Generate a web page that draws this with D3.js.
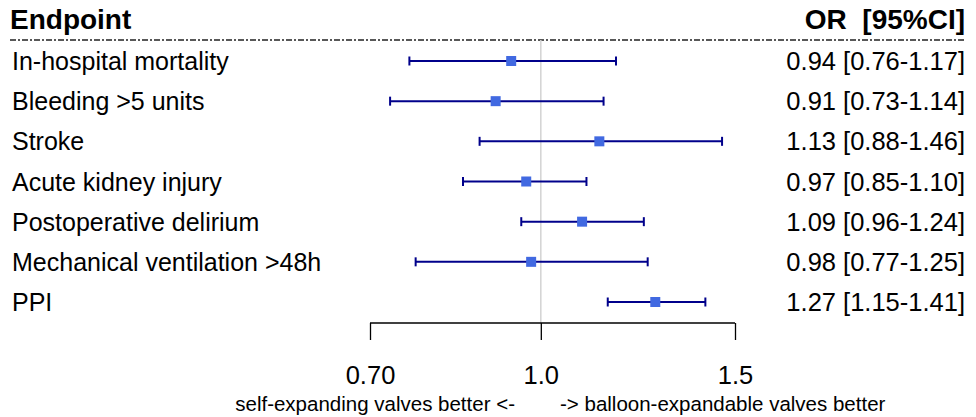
<!DOCTYPE html>
<html>
<head>
<meta charset="utf-8">
<script src="https://cdn.jsdelivr.net/npm/d3@7"></script>
<style>
body { margin: 0; background: #fff; }
text { font-family: "Liberation Sans", Arial, sans-serif; }
</style>
</head>
<body>
<svg id="chart" width="976" height="417"></svg>
<script>
var endpoints = ["In-hospital mortality", "Bleeding >5 units", "Stroke", "Acute kidney injury",
    "Postoperative delirium", "Mechanical ventilation >48h", "PPI"];
var or_values = [0.94, 0.91, 1.13, 0.97, 1.09, 0.98, 1.27];
var ci_low = [0.76, 0.73, 0.88, 0.85, 0.96, 0.77, 1.15];
var ci_high = [1.17, 1.14, 1.46, 1.10, 1.24, 1.25, 1.41];
var tick_values = [0.7, 1.0, 1.5];
var tick_labels = ["0.70", "1.0", "1.5"];

var svg = d3.select("#chart");
var x = d3.scaleLog().domain([0.7, 1.5]).range([370, 735]);
var y = d3.scalePoint().domain(endpoints).range([61, 302]);

var rows = endpoints.map(function (d, i) {
    return { "name": d, "or": or_values[i], "lo": ci_low[i], "hi": ci_high[i] };
});

// header
svg.append("text").text("Endpoint")
    .attr("x", 10).attr("y", 29)
    .attr("font-size", 28).attr("font-weight", "bold");
svg.append("text").text("OR\u00a0\u00a0[95%CI]")
    .attr("x", 965).attr("y", 29)
    .attr("font-size", 28).attr("font-weight", "bold")
    .attr("text-anchor", "end");
svg.append("line")
    .attr("x1", 10).attr("x2", 965).attr("y1", 40).attr("y2", 40)
    .attr("stroke", "#222").attr("stroke-width", 1.3)
    .attr("stroke-dasharray", "6,2,2,2");

// reference line at 1
svg.append("line")
    .attr("x1", x(1)).attr("x2", x(1)).attr("y1", 40).attr("y2", 323)
    .attr("stroke", "#d3d3d3").attr("stroke-width", 1.5);

// labels
svg.selectAll(".row-label").data(rows)
    .enter().append("text")
    .attr("class", "row-label")
    .attr("x", 12)
    .attr("y", function (d) { return y(d.name) + 9; })
    .attr("font-size", 25)
    .text(function (d) { return d.name; });

svg.selectAll(".row-value").data(rows)
    .enter().append("text")
    .attr("class", "row-value")
    .attr("x", 965)
    .attr("y", function (d) { return y(d.name) + 9; })
    .attr("font-size", 25.5)
    .attr("text-anchor", "end")
    .text(function (d) { return d.or.toFixed(2) + " [" + d.lo.toFixed(2) + "-" + d.hi.toFixed(2) + "]"; });

// CI lines
var g = svg.append("g").attr("stroke", "#00008b").attr("stroke-width", 2);
g.selectAll(".ci").data(rows)
    .enter().append("line")
    .attr("x1", function (d) { return x(d.lo); })
    .attr("x2", function (d) { return x(d.hi); })
    .attr("y1", function (d) { return y(d.name); })
    .attr("y2", function (d) { return y(d.name); });
g.selectAll(".cap-lo").data(rows)
    .enter().append("line")
    .attr("x1", function (d) { return x(d.lo); })
    .attr("x2", function (d) { return x(d.lo); })
    .attr("y1", function (d) { return y(d.name) - 4.5; })
    .attr("y2", function (d) { return y(d.name) + 4.5; });
g.selectAll(".cap-hi").data(rows)
    .enter().append("line")
    .attr("x1", function (d) { return x(d.hi); })
    .attr("x2", function (d) { return x(d.hi); })
    .attr("y1", function (d) { return y(d.name) - 4.5; })
    .attr("y2", function (d) { return y(d.name) + 4.5; });

svg.selectAll(".pt").data(rows)
    .enter().append("rect")
    .attr("x", function (d) { return x(d.or) - 5; })
    .attr("y", function (d) { return y(d.name) - 5; })
    .attr("width", 10).attr("height", 10)
    .attr("fill", "#4169e1");

// axis
var axis = d3.axisBottom(x)
    .tickValues(tick_values)
    .tickFormat(function (d, i) { return tick_labels[i]; })
    .tickSize(-17)
    .tickPadding(0)
    .tickSizeOuter(0);
var ax = svg.append("g").attr("transform", "translate(0,340)").call(axis);
ax.select(".domain").remove();
ax.append("line")
    .attr("x1", x(0.7)).attr("x2", x(1.5)).attr("y1", -17).attr("y2", -17)
    .attr("stroke", "#000").attr("stroke-width", 1.3);
ax.selectAll(".tick line").attr("stroke", "#000").attr("stroke-width", 1.3);
ax.selectAll(".tick text")
    .attr("font-size", 25.5)
    .attr("font-family", "Liberation Sans, Arial, sans-serif")
    .attr("fill", "#000")
    .attr("y", 44).attr("dy", 0);

svg.append("text").text("self-expanding valves better <-")
    .attr("x", 515).attr("y", 411)
    .attr("font-size", 20.5).attr("text-anchor", "end");
svg.append("text").text("-> balloon-expandable valves better")
    .attr("x", 560).attr("y", 411)
    .attr("font-size", 20.5);
</script>
</body>
</html>
